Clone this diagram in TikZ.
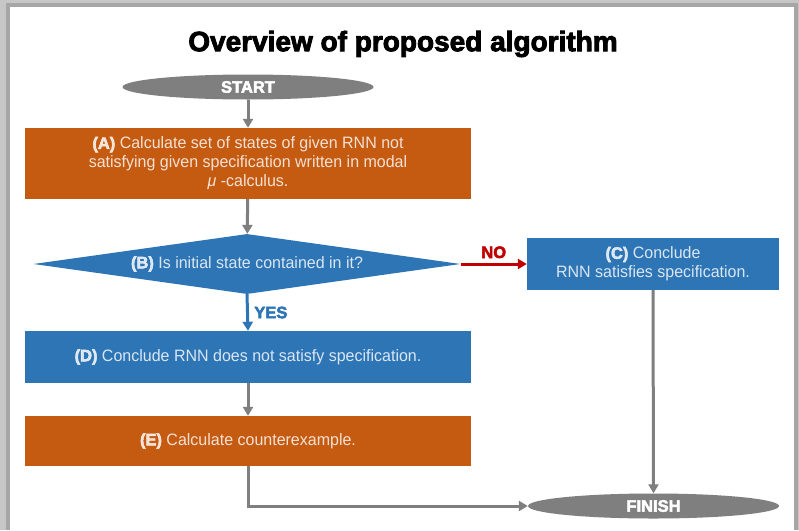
\documentclass[tikz,border=0pt]{standalone}
\usepackage{fontspec}
\setmainfont{Liberation Sans}[FakeStretch=0.97]
\newfontfamily\heavyfont{Liberation Sans Bold}[FakeStretch=1.0,FakeBold=3]
\usetikzlibrary{positioning,shapes.geometric,arrows.meta}

\definecolor{steporange}{HTML}{C55A11}
\definecolor{stepblue}{HTML}{2E75B6}
\definecolor{flowgray}{HTML}{7F7F7F}
\definecolor{nored}{HTML}{C00000}

\begin{document}
\begin{tikzpicture}[x=1pt,y=-1pt,
      every node/.style={font=\fontsize{16.5}{19}\selectfont},
      stepbox/.style={rectangle,inner sep=0pt,minimum width=446pt,
        align=center,text=white,text opacity=0.82},
      terminal/.style={ellipse,fill=flowgray,inner sep=0pt,minimum width=251pt,
        minimum height=25pt,text=white,font=\heavyfont\fontsize{16.5}{16.5}\selectfont},
      flow/.style={draw=flowgray,line width=3pt,-{Triangle[width=10pt,length=9pt]}}]

      \useasboundingbox (0,0) rectangle (799,530);
      % page with its shadow
      \fill[gray!45] (0,0) rectangle (799,530);
      \foreach \i/\g in {0/50,1/55,2/60,3/65,4/70}
        \fill[gray!\g] (10-\i,7-\i) rectangle (794+\i,530);
      \fill[white] (10,7) rectangle (794,530);

      \node[font=\heavyfont\fontsize{28}{28}\selectfont] (title) at (403,44)
        {Overview of proposed algorithm};

      \node[terminal] (start) at (248,87) {START};
      \node[stepbox,fill=steporange,minimum height=71pt] (calc) at (248,163.5)
        {{\heavyfont\color{white}(A)} Calculate set of states of given RNN not\\
         satisfying given specification written in modal\\
         \textit{μ} -calculus.};
      \node[diamond,fill=stepblue,inner sep=0pt,aspect=7.1,minimum width=427pt,
        minimum height=60pt,text=white,text opacity=0.82] (test) at (247,264)
        {{\heavyfont\color{white}(B)} Is initial state contained in it?};
      \node[stepbox,fill=stepblue,minimum width=252pt,minimum height=52pt]
        (holds) at (653,264)
        {{\heavyfont\color{white}(C)} Conclude\\RNN satisfies specification.};
      \node[stepbox,fill=stepblue,minimum height=52pt] (fails) at (248,357)
        {{\heavyfont\color{white}(D)} Conclude RNN does not satisfy specification.};
      \node[stepbox,fill=steporange,minimum height=50pt] (cex) at (248,441)
        {{\heavyfont\color{white}(E)} Calculate counterexample.};
      \node[terminal] (finish) at (653.5,506) {FINISH};

      \draw[flow] (start) -- (calc);
      \draw[flow] (calc) -- (test);
      \draw[flow,draw=nored] (test.east) -- (holds.west)
        node[midway,above=1pt,text=nored,font=\heavyfont\fontsize{16.5}{16.5}\selectfont] {NO};
      \draw[flow,draw=stepblue] (test.south) -- (fails.north)
        node[midway,right=2pt,text=stepblue,font=\heavyfont\fontsize{16.5}{16.5}\selectfont] {YES};
      \draw[flow] (fails) -- (cex);
      \draw[flow] (cex.south) |- (finish.west);
      \draw[flow] (holds.south) -- (finish.north);

    \end{tikzpicture}
\end{document}
